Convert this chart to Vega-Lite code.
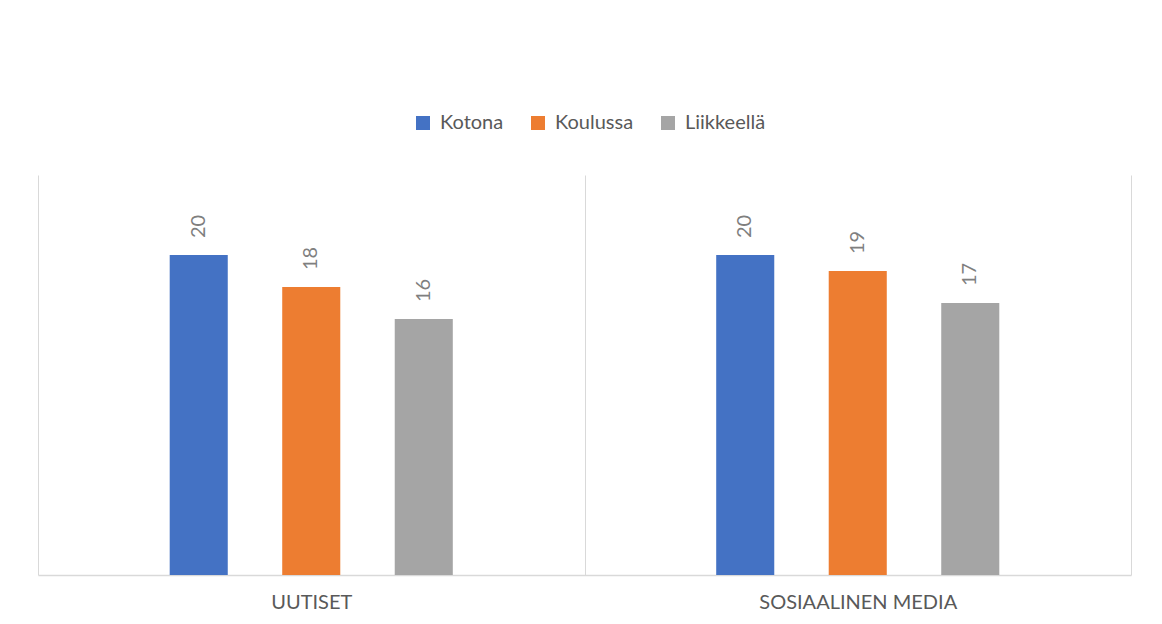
{
  "$schema": "https://vega.github.io/schema/vega-lite/v6.json",
  "width": 1093,
  "height": 400,
  "autosize": {"type": "none"},
  "padding": {"left": 38, "top": 175, "right": 31, "bottom": 49},
  "background": "white",
  "config": {"view": {"stroke": null}, "font": "Lato"},
  "data": {
    "values": [
      {"kategoria": "UUTISET", "paikka": "Kotona", "arvo": 20},
      {"kategoria": "UUTISET", "paikka": "Koulussa", "arvo": 18},
      {"kategoria": "UUTISET", "paikka": "Liikkeellä", "arvo": 16},
      {"kategoria": "SOSIAALINEN MEDIA", "paikka": "Kotona", "arvo": 20},
      {"kategoria": "SOSIAALINEN MEDIA", "paikka": "Koulussa", "arvo": 19},
      {"kategoria": "SOSIAALINEN MEDIA", "paikka": "Liikkeellä", "arvo": 17}
    ]
  },
  "encoding": {
    "x": {
      "field": "kategoria",
      "type": "nominal",
      "sort": ["UUTISET", "SOSIAALINEN MEDIA"],
      "scale": {"paddingInner": 0, "paddingOuter": 0},
      "axis": {
        "title": null,
        "labelAngle": 0,
        "labelLimit": 0,
        "ticks": false,
        "tickBand": "extent",
        "grid": true,
        "gridColor": "#D9D9D9",
        "gridWidth": 1,
        "domainColor": "#D9D9D9",
        "domainWidth": 1.3,
        "labelFont": "Lato",
        "labelFontSize": 20,
        "labelColor": "#595959",
        "labelPadding": 17
      }
    },
    "xOffset": {
      "field": "paikka",
      "type": "nominal",
      "sort": ["Kotona", "Koulussa", "Liikkeellä"],
      "scale": {"range": [131.7, 414.8], "paddingInner": 0.484, "paddingOuter": 0}
    },
    "y": {
      "field": "arvo",
      "type": "quantitative",
      "scale": {"domain": [0, 25]},
      "axis": null
    }
  },
  "layer": [
    {
      "mark": {"type": "bar"},
      "encoding": {
        "color": {
          "field": "paikka",
          "type": "nominal",
          "sort": ["Kotona", "Koulussa", "Liikkeellä"],
          "scale": {"range": ["#4472C4", "#ED7D31", "#A5A5A5"]},
          "legend": {
            "orient": "none",
            "legendX": 375,
            "legendY": -62,
            "direction": "horizontal",
            "title": null,
            "symbolType": "square",
            "symbolSize": 196,
            "symbolStrokeWidth": 0,
            "labelFont": "Lato",
            "labelFontSize": 20,
            "labelColor": "#595959",
            "labelOffset": 7,
            "columnPadding": 24
          }
        }
      }
    },
    {
      "mark": {
        "type": "text",
        "angle": 270,
        "align": "left",
        "baseline": "middle",
        "dx": 17,
        "font": "Lato",
        "fontSize": 20,
        "color": "#7F7F7F"
      },
      "encoding": {
        "text": {"field": "arvo", "type": "quantitative"}
      }
    }
  ]
}
